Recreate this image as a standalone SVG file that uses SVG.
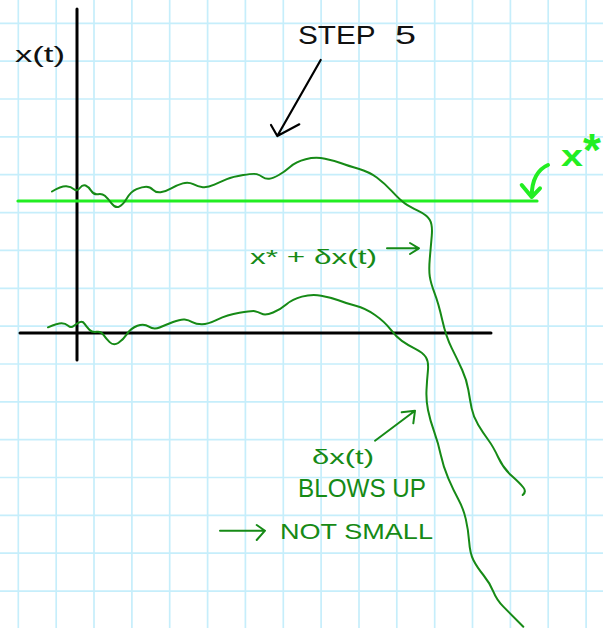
<svg xmlns="http://www.w3.org/2000/svg" width="603" height="628" viewBox="0 0 603 628">
<style>
.grid line{stroke:#c6eefb;stroke-width:1.7}
.ax{stroke:#000;stroke-width:3;stroke-linecap:round;fill:none}
.dk{stroke:#168a16;stroke-width:2;fill:none;stroke-linecap:round;stroke-linejoin:round}
.br{stroke:#22ee22;fill:none;stroke-linecap:round;stroke-linejoin:round}
.ink{stroke:#000;stroke-width:2.2;fill:none;stroke-linecap:round;stroke-linejoin:round}
.t{font-family:"Liberation Sans",Arial,sans-serif}
.tk{fill:#111}
.tg{fill:#168a16}
</style>
<rect width="603" height="628" fill="#fff"/>
<g class="grid">
<line x1="18.3" y1="0" x2="18.3" y2="628"/><line x1="56.2" y1="0" x2="56.2" y2="628"/><line x1="94" y1="0" x2="94" y2="628"/><line x1="131.9" y1="0" x2="131.9" y2="628"/><line x1="169.7" y1="0" x2="169.7" y2="628"/><line x1="207.6" y1="0" x2="207.6" y2="628"/><line x1="245.4" y1="0" x2="245.4" y2="628"/><line x1="283.3" y1="0" x2="283.3" y2="628"/><line x1="321.1" y1="0" x2="321.1" y2="628"/><line x1="359" y1="0" x2="359" y2="628"/><line x1="396.8" y1="0" x2="396.8" y2="628"/><line x1="434.7" y1="0" x2="434.7" y2="628"/><line x1="472.5" y1="0" x2="472.5" y2="628"/><line x1="510.4" y1="0" x2="510.4" y2="628"/><line x1="548.2" y1="0" x2="548.2" y2="628"/><line x1="586.1" y1="0" x2="586.1" y2="628"/>
<line x1="0" y1="23.3" x2="603" y2="23.3"/><line x1="0" y1="61.2" x2="603" y2="61.2"/><line x1="0" y1="99" x2="603" y2="99"/><line x1="0" y1="136.9" x2="603" y2="136.9"/><line x1="0" y1="174.7" x2="603" y2="174.7"/><line x1="0" y1="212.6" x2="603" y2="212.6"/><line x1="0" y1="250.4" x2="603" y2="250.4"/><line x1="0" y1="288.3" x2="603" y2="288.3"/><line x1="0" y1="326.1" x2="603" y2="326.1"/><line x1="0" y1="364" x2="603" y2="364"/><line x1="0" y1="401.8" x2="603" y2="401.8"/><line x1="0" y1="439.7" x2="603" y2="439.7"/><line x1="0" y1="477.5" x2="603" y2="477.5"/><line x1="0" y1="515.4" x2="603" y2="515.4"/><line x1="0" y1="553.2" x2="603" y2="553.2"/><line x1="0" y1="591.1" x2="603" y2="591.1"/>
</g>
<g id="axes">
<line class="ax" x1="77" y1="9" x2="77" y2="360"/>
<line class="ax" x1="20" y1="333" x2="491" y2="333"/>
<text class="t tk" x="15" y="62" font-size="22" textLength="50" lengthAdjust="spacingAndGlyphs">x(t)</text>
</g>
<g id="equilibrium">
<line class="br" stroke-width="3.2" x1="18" y1="201" x2="537" y2="201"/>
</g>
<g id="curve-perturbed">
<path class="dk" d="M52 191.5 Q61.5 186 66.25 186.35 Q71 186.7 74 189.2 Q77 191.7 79.85 188 Q82.7 184.3 85.6 185.5 Q88.5 186.7 91.25 190.85 Q94 195 98 194.15 Q102 193.3 104.85 195.8 Q107.7 198.3 111.55 203.3 Q115.4 208.3 119.2 206.65 Q123 205 126.9 198.35 Q130.8 191.7 136.55 189.2 Q142.3 186.7 146.15 186.7 Q150 186.7 152.9 189.7 Q155.8 192.7 160.6 192.2 Q165.4 191.7 171.2 188.35 Q177 185 182.75 183.35 Q188.5 181.7 193.25 184.2 Q198 186.7 202.85 187.2 Q207.7 187.7 214.35 184.7 Q221 181.7 226.85 179.2 Q232.7 176.7 243.25 175 Q253.8 173.3 256.7 174.15 Q259.6 175 262.5 177 Q265.4 179 269.2 178.65 Q273 178.3 278.8 175 Q284.6 171.7 290.3 166.7 Q296 161.7 305.7 159.2 Q315.4 156.7 325 158.7 Q334.6 160.7 341.3 163.2 Q348 165.7 358.5 168.7 Q369 171.7 376.8 177.5 Q384.6 183.3 392.3 191.65 Q400 200 404.8 203.35 Q409.6 206.7 418.3 210.85 Q427 215 429.85 220 Q432.7 225 431.75 235.85 Q430.8 246.7 429.8 258.35 Q428.8 270 429.8 276.65 Q430.8 283.3 434.65 293.3 Q438.5 303.3 442.25 320 Q446 336.7 451.85 348.35 Q457.7 360 462.2 370 Q466.7 380 468.35 390 Q470 400 471.65 408.35 Q473.3 416.7 478.3 425 Q483.3 433.3 488.3 440 Q493.3 446.7 498.3 457.5 Q503.3 468.3 511.65 475.8 Q520 483.3 523.35 487.5 Q526.7 491.7 522.7 495"/>
</g>
<g id="curve-deviation">
<path class="dk" d="M48 327.3 Q57.7 323.3 61.55 323.3 Q65.4 323.3 68.2 325.8 Q71 328.3 74 325.8 Q77 323.3 79.85 322.15 Q82.7 321 84.6 323.85 Q86.5 326.7 89.4 329.7 Q92.3 332.7 96.55 331.85 Q100.8 331 103.3 334.65 Q105.8 338.3 109.65 342.15 Q113.5 346 118.25 343 Q123 340 126.9 334.15 Q130.8 328.3 137.4 325.8 Q144 323.3 148.9 326.65 Q153.8 330 159.6 327.5 Q165.4 325 173.1 322 Q180.8 319 184.65 319.5 Q188.5 320 192.25 322.15 Q196 324.3 201.85 324.3 Q207.7 324.3 217.35 319.65 Q227 315 239.5 312.85 Q252 310.7 254.85 311.2 Q257.7 311.7 261.55 313.7 Q265.4 315.7 273.1 312.5 Q280.8 309.3 286.55 304.3 Q292.3 299.3 301.9 296.65 Q311.5 294 321.15 295.65 Q330.8 297.3 338.4 300.3 Q346 303.3 355.7 305.8 Q365.4 308.3 375 315 Q384.6 321.7 390.3 329.2 Q396 336.7 401.85 340.85 Q407.7 345 415.35 348.85 Q423 352.7 425.9 357.2 Q428.8 361.7 427.9 370.85 Q427 380 426.5 390 Q426 400 428 410 Q430 420 434.15 431.65 Q438.3 443.3 440.8 455 Q443.3 466.7 448.3 478.35 Q453.3 490 458.3 499.15 Q463.3 508.3 465.8 519.15 Q468.3 530 469.15 541.65 Q470 553.3 473.35 560 Q476.7 566.7 483.35 575 Q490 583.3 493.35 591.65 Q496.7 600 503.35 606.65 Q510 613.3 523.3 626.7"/>
</g>
<g id="label-step5">
<text class="t tk" y="43.5" font-size="25"><tspan x="298" textLength="77" lengthAdjust="spacingAndGlyphs">STEP</tspan> <tspan x="395" textLength="21" lengthAdjust="spacingAndGlyphs">5</tspan></text>
</g>
<g id="label-xstar">
<text class="t" fill="#22ee22" font-weight="bold" y="166"><tspan x="561" font-size="30" textLength="22" lengthAdjust="spacingAndGlyphs">x</tspan><tspan font-size="46">*</tspan></text>
</g>
<g id="label-sum">
<text class="t tg" x="250" y="263.5" font-size="21" textLength="127" lengthAdjust="spacingAndGlyphs">x* + δx(t)</text>
</g>
<g id="label-blowsup">
<text class="t tg" x="312" y="464" font-size="20" textLength="62" lengthAdjust="spacingAndGlyphs">δx(t)</text>
<text class="t tg" x="298" y="497" font-size="26.5" textLength="128" lengthAdjust="spacingAndGlyphs">BLOWS UP</text>
</g>
<g id="label-notsmall">
<text class="t tg" x="280" y="539" font-size="22" textLength="153" lengthAdjust="spacingAndGlyphs">NOT SMALL</text>
</g>
<g id="connectors">
<path class="ink" d="M320.7 60 L277.3 136 M271 125 L277.3 136 L299.3 124.3"/>
<path class="br" stroke-width="4" d="M548 165 Q532 172 531.7 196 M521.7 185 L531.7 197 L540 188.3"/>
<path class="dk" d="M387 248.3 L419 248.3 M410 243 L419 248.3 L410 254"/>
<path class="dk" d="M375 440.7 L415 410.7 M401.7 412.3 L415 410.7 L413.3 423.3"/>
<path class="dk" d="M220 530.7 L265 530.7 M256.7 525 L265 530.7 L256.7 540"/>
</g>
</svg>
